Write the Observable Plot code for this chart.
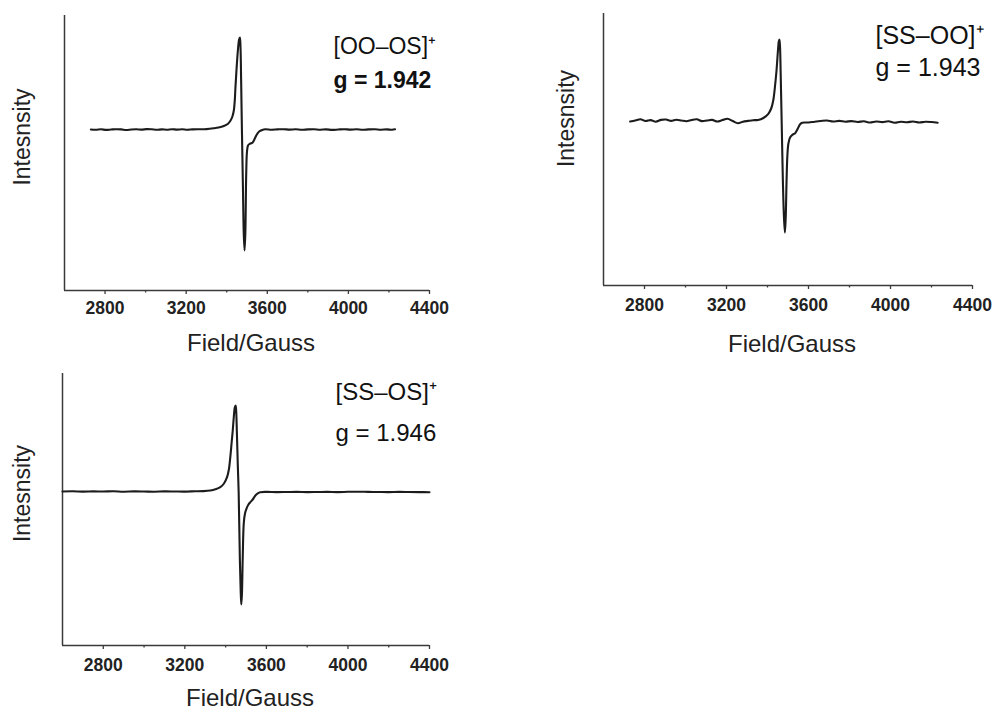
<!DOCTYPE html>
<html>
<head>
<meta charset="utf-8">
<script src="https://cdn.jsdelivr.net/npm/d3@7"></script>
<script src="https://cdn.jsdelivr.net/npm/@observablehq/plot@0.6"></script>
<style>
  html, body { margin: 0; padding: 0; background: #fff; }
  #root { position: relative; width: 994px; height: 709px; overflow: hidden; background: #fff; }
  .panel { position: absolute; }
</style>
</head>
<body>
<div id="root"></div>
<script>
// ---------- Data ----------
const majorTicks = [2800, 3200, 3600, 4000, 4400];
const minorTicks = [3000, 3400, 3800, 4200];
const xLabel = "Field/Gauss";
const yLabel = "Intesnsity";

// Panel 1: [OO–OS]+
const nameOOOS = "[OO–OS]⁺";
const gOOOS = "g = 1.942";
const fieldOOOS = [2730, 2755, 2780, 2805, 2830, 2855, 2880, 2905, 2930, 2955, 2980, 3005, 3030, 3055, 3080, 3105, 3130, 3155, 3180, 3205, 3230, 3255, 3280, 3300,
  3335, 3360, 3386, 3405, 3419, 3428, 3435, 3440, 3443, 3448, 3455, 3461, 3465, 3468, 3471, 3475, 3480, 3484, 3488, 3492, 3496, 3500, 3505, 3512, 3521, 3528, 3534, 3542, 3550, 3560, 3575,
  3590, 3620, 3650, 3680, 3710, 3740, 3770, 3800, 3830, 3860, 3890, 3920, 3950, 3980, 4010, 4040, 4070, 4100, 4130, 4160, 4190, 4215, 4230];
const intensityOOOS = [0.0, -0.003, 0.002, -0.004, 0.0, 0.003, 0.001, -0.005, 0.0, 0.002, -0.001, 0.004, 0.002, -0.003, 0.001, -0.002, 0.003, -0.001, 0.002, -0.002, 0.001, 0.003, 0.002, 0.004,
  0.012, 0.02, 0.035, 0.055, 0.09, 0.13, 0.19, 0.3, 0.42, 0.59, 0.79, 0.9, 0.92, 0.82, 0.5, -0.01, -0.58, -1.04, -1.21, -1.02, -0.45, -0.22, -0.16, -0.145, -0.137, -0.13, -0.11, -0.075, -0.045, -0.02, -0.005,
  0.002, -0.002, 0.001, 0.003, -0.001, 0.002, -0.003, 0.001, 0.003, -0.002, 0.001, -0.004, 0.0, 0.003, -0.001, 0.002, -0.003, 0.001, 0.003, -0.002, 0.001, -0.003, 0.002];

// Panel 2: [SS–OO]+
const nameSSOO = "[SS–OO]⁺";
const gSSOO = "g = 1.943";
const fieldSSOO = [2730, 2755, 2780, 2805, 2830, 2855, 2880, 2905, 2930, 2955, 2980, 3005, 3030, 3055, 3080, 3105, 3130, 3155, 3180, 3205, 3230, 3256, 3280, 3305, 3330, 3354,
  3380, 3404, 3418, 3428, 3437, 3444, 3451, 3455, 3458, 3461, 3464, 3469, 3475, 3480, 3485, 3489, 3493, 3497, 3502, 3510, 3518, 3528, 3534, 3543, 3551, 3560, 3570,
  3600, 3630, 3660, 3690, 3720, 3750, 3780, 3810, 3840, 3870, 3900, 3930, 3960, 3990, 4020, 4050, 4080, 4110, 4140, 4170, 4200, 4230];
const intensitySSOO = [-0.01, 0.0, 0.012, -0.005, 0.004, -0.012, 0.006, 0.01, -0.004, 0.008, 0.0, -0.008, 0.005, 0.012, -0.006, 0.0, 0.006, -0.01, 0.004, 0.018, -0.005, -0.027, -0.012, -0.004, 0.003, 0.005,
  0.025, 0.067, 0.12, 0.2, 0.35, 0.5, 0.7, 0.79, 0.81, 0.74, 0.5, 0.0, -0.6, -0.95, -1.12, -0.96, -0.6, -0.35, -0.23, -0.17, -0.15, -0.135, -0.13, -0.1, -0.067, -0.035, -0.022,
  -0.02, -0.012, -0.005, 0.0, -0.01, -0.004, -0.012, -0.006, -0.015, -0.008, -0.02, -0.01, -0.016, -0.008, -0.022, -0.012, -0.018, -0.01, -0.02, -0.012, -0.015, -0.022];

// Panel 3: [SS–OS]+
const nameSSOS = "[SS–OS]⁺";
const gSSOS = "g = 1.946";
const fieldSSOS = [2600, 2650, 2700, 2750, 2800, 2850, 2900, 2950, 3000, 3050, 3100, 3150, 3200, 3250, 3290,
  3325, 3350, 3374, 3392, 3407, 3416, 3423, 3430, 3435, 3440, 3445, 3449, 3452, 3455, 3460, 3464, 3470, 3474, 3477, 3480, 3484, 3489, 3495, 3502, 3512, 3521, 3533, 3546, 3558, 3570,
  3600, 3650, 3700, 3750, 3800, 3850, 3900, 3950, 4000, 4050, 4100, 4150, 4200, 4250, 4300, 4350, 4400];
const intensitySSOS = [0.0, 0.002, -0.001, 0.001, 0.0, 0.002, -0.002, 0.001, 0.0, -0.002, 0.001, 0.0, -0.001, 0.002, 0.004,
  0.01, 0.022, 0.043, 0.08, 0.143, 0.22, 0.343, 0.5, 0.61, 0.74, 0.84, 0.86, 0.8, 0.61, 0.25, -0.007, -0.69, -1.0, -1.13, -1.03, -0.66, -0.32, -0.22, -0.173, -0.13, -0.107, -0.08, -0.04, -0.018, -0.007,
  -0.004, -0.006, -0.005, -0.004, -0.006, -0.005, -0.004, -0.006, -0.003, -0.002, -0.004, -0.005, -0.006, -0.004, -0.005, -0.006, -0.007];

// ---------- Rendering ----------
const FONT = "'Liberation Sans', Arial, Helvetica, sans-serif";
const AXIS = "#3a3a3a";
const LINE = "#1c1c1c";

function table(fields, values) {
  return fields.map((f, i) => ({field: f, intensity: values[i]}));
}

function panel(cfg) {
  const data = table(cfg.fields, cfg.values);
  const chart = Plot.plot({
    width: cfg.width,
    height: cfg.height,
    marginLeft: cfg.ml, marginTop: cfg.mt, marginRight: cfg.mr, marginBottom: cfg.mb,
    style: {fontFamily: FONT, background: "transparent", overflow: "visible", color: "#222"},
    x: {domain: [2600, 4400], label: null},
    y: {domain: cfg.ydomain, axis: null},
    marks: [
      Plot.ruleX([2600], {stroke: AXIS, strokeWidth: 1.5}),
      Plot.ruleY([cfg.ydomain[0]], {stroke: AXIS, strokeWidth: 1.5}),
      Plot.axisX(majorTicks, {tickSize: 4, tickPadding: cfg.tickPadding, fontSize: 17.5, fontWeight: "bold",
        stroke: AXIS, strokeWidth: 1.3, tickFormat: d => String(d), label: null}),
      Plot.axisX(minorTicks, {tickSize: 2.5, stroke: AXIS, strokeWidth: 1.3, tickFormat: () => "", label: null}),
      Plot.line(data, {x: "field", y: "intensity", stroke: LINE, strokeWidth: 2.1, curve: "catmull-rom"}),
      Plot.text([cfg.name], {frameAnchor: "top-left", dx: cfg.nameDx, dy: cfg.nameDy, fontSize: cfg.labelSize,
        textAnchor: "start", lineAnchor: "middle", fill: "#111", fontWeight: cfg.nameWeight}),
      Plot.text([cfg.g], {frameAnchor: "top-left", dx: cfg.nameDx, dy: cfg.gDy, fontSize: cfg.labelSize,
        textAnchor: "start", lineAnchor: "middle", fill: "#111", fontWeight: cfg.gWeight}),
      Plot.text([xLabel], {frameAnchor: "bottom", dx: cfg.xlDx, dy: cfg.xlDy, fontSize: 24,
        textAnchor: "middle", lineAnchor: "bottom", fill: "#222"}),
      Plot.text([yLabel], {frameAnchor: "left", dx: cfg.ylDx, dy: cfg.ylDy, fontSize: 23, rotate: -90,
        textAnchor: "middle", lineAnchor: "bottom", fill: "#222"})
    ]
  });
  const div = document.createElement("div");
  div.className = "panel";
  div.style.left = cfg.left + "px";
  div.style.top = cfg.top + "px";
  div.appendChild(chart);
  document.getElementById("root").appendChild(div);
}

panel({
  left: 0, top: 0, width: 455, height: 355, ml: 64, mt: 15, mr: 26, mb: 65,
  ydomain: [-1.61, 1.14], fields: fieldOOOS, values: intensityOOOS,
  name: nameOOOS, g: gOOOS, nameWeight: "normal", gWeight: "bold", labelSize: 23,
  nameDx: 269, nameDy: 31, gDy: 65, tickPadding: 7,
  xlDx: 4, xlDy: 60, ylDx: -35, ylDy: -16
});

panel({
  left: 540, top: 0, width: 454, height: 360, ml: 63, mt: 13, mr: 22, mb: 75,
  ydomain: [-1.65, 1.07], fields: fieldSSOO, values: intensitySSOO,
  name: nameSSOO, g: gSSOO, nameWeight: "normal", gWeight: "normal", labelSize: 25,
  nameDx: 272, nameDy: 22, gDy: 54, tickPadding: 9,
  xlDx: 4, xlDy: 66, ylDx: -30, ylDy: -31
});

panel({
  left: 0, top: 360, width: 455, height: 349, ml: 62, mt: 13, mr: 26, mb: 64,
  ydomain: [-1.54, 1.18], fields: fieldSSOS, values: intensitySSOS,
  name: nameSSOS, g: gSSOS, nameWeight: "normal", gWeight: "normal", labelSize: 24,
  nameDx: 273, nameDy: 19, gDy: 60, tickPadding: 9,
  xlDx: 4, xlDy: 60, ylDx: -33, ylDy: -16
});
</script>
</body>
</html>
